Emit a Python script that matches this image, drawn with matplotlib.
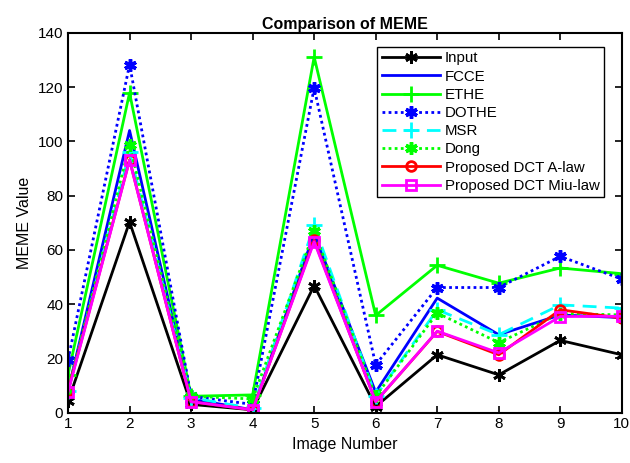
import numpy as np
import matplotlib.pyplot as plt

plt.rcParams['font.family'] = ['Liberation Sans', 'DejaVu Sans']

images = np.arange(1, 11)
input_v = [4.1, 70.3, 3.0, 1.0, 46.8, 2.2, 21.3, 13.9, 26.6, 21.3]
fcce = [8.0, 104.0, 5.0, 1.0, 66.0, 7.5, 42.2, 28.7, 36.0, 35.0]
ethe = [13.9, 117.9, 6.0, 6.5, 131.1, 35.8, 54.3, 47.7, 53.3, 51.2]
dothe = [19.4, 128.3, 6.0, 3.0, 119.7, 17.6, 46.1, 46.1, 57.6, 49.2]
msr = [8.0, 96.0, 5.5, 1.5, 69.0, 6.0, 37.9, 28.7, 39.7, 38.5]
dong = [8.0, 98.8, 6.0, 5.0, 66.8, 6.0, 36.7, 25.8, 36.5, 36.0]
alaw = [8.0, 93.2, 4.0, 1.0, 63.5, 4.0, 29.9, 21.3, 37.9, 34.8]
miulaw = [7.5, 93.0, 4.0, 1.0, 63.0, 4.0, 30.0, 22.0, 35.4, 35.5]

ast = (6, 2, 0)  # matlab style asterisk
dots = (0, (1, 1.2))

fig, ax = plt.subplots(figsize=(6.3, 4.63), dpi=100)
fig.subplots_adjust(left=0.108, right=0.987, bottom=0.109, top=0.929)

ax.plot(images, input_v, 'k-', marker=ast, lw=2, ms=9, mew=2, label='Input')
ax.plot(images, fcce, 'b-', lw=2, label='FCCE')
ax.plot(images, ethe, '-+', color='#00ff00', lw=2, ms=11, mew=2, label='ETHE')
ax.plot(images, dothe, color='b', ls=dots, marker=ast, lw=2, ms=9, mew=2.5, label='DOTHE')
ax.plot(images, msr, color='cyan', ls=(0, (5, 3)), marker='+', lw=2, ms=11, mew=2, label='MSR')
ax.plot(images, dong, color='#00ff00', ls=dots, marker=ast, lw=2, ms=9, mew=2.5, label='Dong')
ax.plot(images, alaw, 'r-o', lw=2, ms=7, mfc='none', mew=2, label='Proposed DCT A-law')
ax.plot(images, miulaw, '-s', color='magenta', lw=2, ms=7, mfc='none', mew=2,
        label='Proposed DCT Miu-law')

ax.set_xlim(1, 10)
ax.set_ylim(0, 140)
ax.set_xticks(images)
ax.set_yticks(np.arange(0, 141, 20))
ax.tick_params(direction='in', top=True, right=True, labelsize=11, width=1.2, length=5)
for s in ax.spines.values():
    s.set_linewidth(1.5)
ax.set_xlabel('Image Number', fontsize=11.5)
ax.set_ylabel('MEME Value', fontsize=11.5)
ax.set_title('Comparison of MEME', fontsize=11.5, fontweight='bold', pad=3)

leg = ax.legend(loc='upper right', bbox_to_anchor=(0.968, 0.963), borderaxespad=0,
                fontsize=10.8, fancybox=False, edgecolor='black', framealpha=1,
                borderpad=0.3, labelspacing=0.28, handlelength=3.9, handletextpad=0.3)
leg.get_frame().set_linewidth(1)

fig.savefig('out.png')
